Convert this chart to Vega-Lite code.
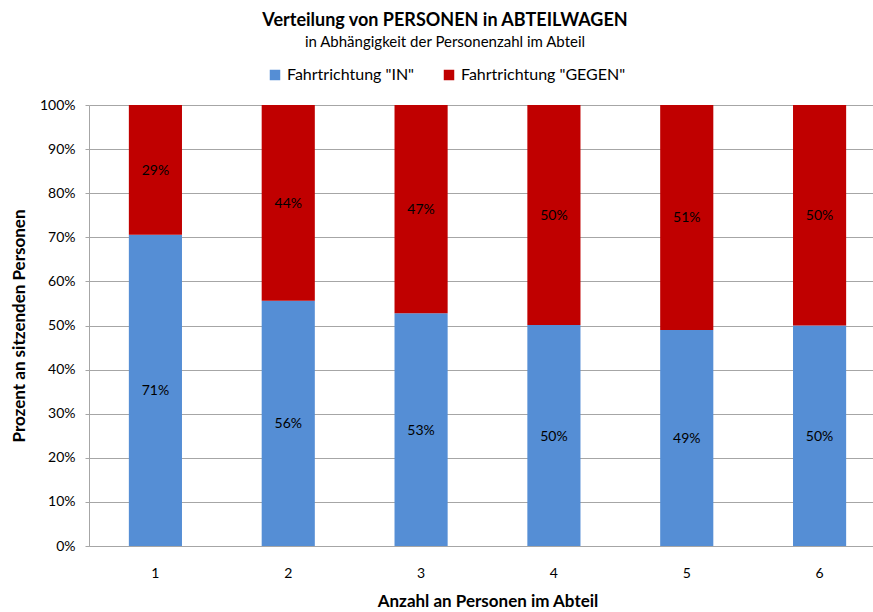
{
  "$schema": "https://vega.github.io/schema/vega-lite/v6.json",
  "autosize": "none",
  "width": 784,
  "height": 441,
  "padding": {"left": 89, "top": 105, "right": 0, "bottom": 66},
  "background": "white",
  "config": {"font": "Lato", "view": {"stroke": null}},
  "title": {
    "text": "Verteilung von PERSONEN in ABTEILWAGEN",
    "subtitle": "in Abhängigkeit der Personenzahl im Abteil",
    "anchor": "middle",
    "frame": "group",
    "dx": -36,
    "offset": 17,
    "fontSize": 18,
    "fontWeight": "bold",
    "subtitleFontSize": 15,
    "subtitlePadding": 5,
    "color": "#000000",
    "subtitleColor": "#000000"
  },
  "data": {
    "values": [
      {"n": "1", "richtung": "Fahrtrichtung \"IN\"", "o": 1, "p": 0.706},
      {"n": "1", "richtung": "Fahrtrichtung \"GEGEN\"", "o": 2, "p": 0.294},
      {"n": "2", "richtung": "Fahrtrichtung \"IN\"", "o": 1, "p": 0.556},
      {"n": "2", "richtung": "Fahrtrichtung \"GEGEN\"", "o": 2, "p": 0.444},
      {"n": "3", "richtung": "Fahrtrichtung \"IN\"", "o": 1, "p": 0.528},
      {"n": "3", "richtung": "Fahrtrichtung \"GEGEN\"", "o": 2, "p": 0.472},
      {"n": "4", "richtung": "Fahrtrichtung \"IN\"", "o": 1, "p": 0.501},
      {"n": "4", "richtung": "Fahrtrichtung \"GEGEN\"", "o": 2, "p": 0.499},
      {"n": "5", "richtung": "Fahrtrichtung \"IN\"", "o": 1, "p": 0.49},
      {"n": "5", "richtung": "Fahrtrichtung \"GEGEN\"", "o": 2, "p": 0.51},
      {"n": "6", "richtung": "Fahrtrichtung \"IN\"", "o": 1, "p": 0.5},
      {"n": "6", "richtung": "Fahrtrichtung \"GEGEN\"", "o": 2, "p": 0.5}
    ]
  },
  "encoding": {
    "x": {
      "field": "n",
      "type": "ordinal",
      "scale": {"range": [0, 797], "paddingInner": 0.6, "paddingOuter": 0.3},
      "axis": {
        "title": "Anzahl an Personen im Abteil",
        "titleFontSize": 17,
        "titleFontWeight": "bold",
        "titleColor": "#000000",
        "titlePadding": 13,
        "labelAngle": 0,
        "labelFontSize": 14,
        "labelColor": "#000000",
        "labelPadding": 20,
        "ticks": false,
        "domainColor": "#A6A6A6",
        "domainWidth": 1
      }
    },
    "y": {
      "field": "p",
      "type": "quantitative",
      "stack": "zero",
      "scale": {"domain": [0, 1]},
      "axis": {
        "title": "Prozent an sitzenden Personen",
        "titleFontSize": 17,
        "titleFontWeight": "bold",
        "titleColor": "#000000",
        "titlePadding": 11,
        "format": ".0%",
        "values": [0, 0.1, 0.2, 0.3, 0.4, 0.5, 0.6, 0.7, 0.8, 0.9, 1],
        "labelFontSize": 14,
        "labelColor": "#000000",
        "labelPadding": 10,
        "tickSize": 4,
        "tickColor": "#A6A6A6",
        "domainColor": "#A6A6A6",
        "gridColor": "#A6A6A6",
        "grid": true
      }
    },
    "order": {"field": "o", "type": "quantitative"}
  },
  "layer": [
    {
      "mark": {"type": "bar"},
      "encoding": {
        "color": {
          "field": "richtung",
          "type": "nominal",
          "sort": ["Fahrtrichtung \"IN\"", "Fahrtrichtung \"GEGEN\""],
          "scale": {"domain": ["Fahrtrichtung \"IN\"", "Fahrtrichtung \"GEGEN\""], "range": ["#558ED5", "#C00000"]},
          "legend": {
            "title": null,
            "orient": "none",
            "direction": "horizontal",
            "legendX": 178,
            "legendY": -38,
            "symbolType": "square",
            "symbolSize": 110,
            "symbolStrokeWidth": 0,
            "labelFontSize": 16,
            "labelLimit": 300,
            "labelColor": "#000000",
            "columnPadding": 26,
            "labelOffset": 4
          }
        }
      }
    },
    {
      "mark": {"type": "text", "fontSize": 14, "color": "#000000", "dy": 1},
      "encoding": {
        "y": {"field": "p", "type": "quantitative", "stack": "zero", "bandPosition": 0.5},
        "text": {"field": "p", "type": "quantitative", "format": ".0%"}
      }
    }
  ]
}
